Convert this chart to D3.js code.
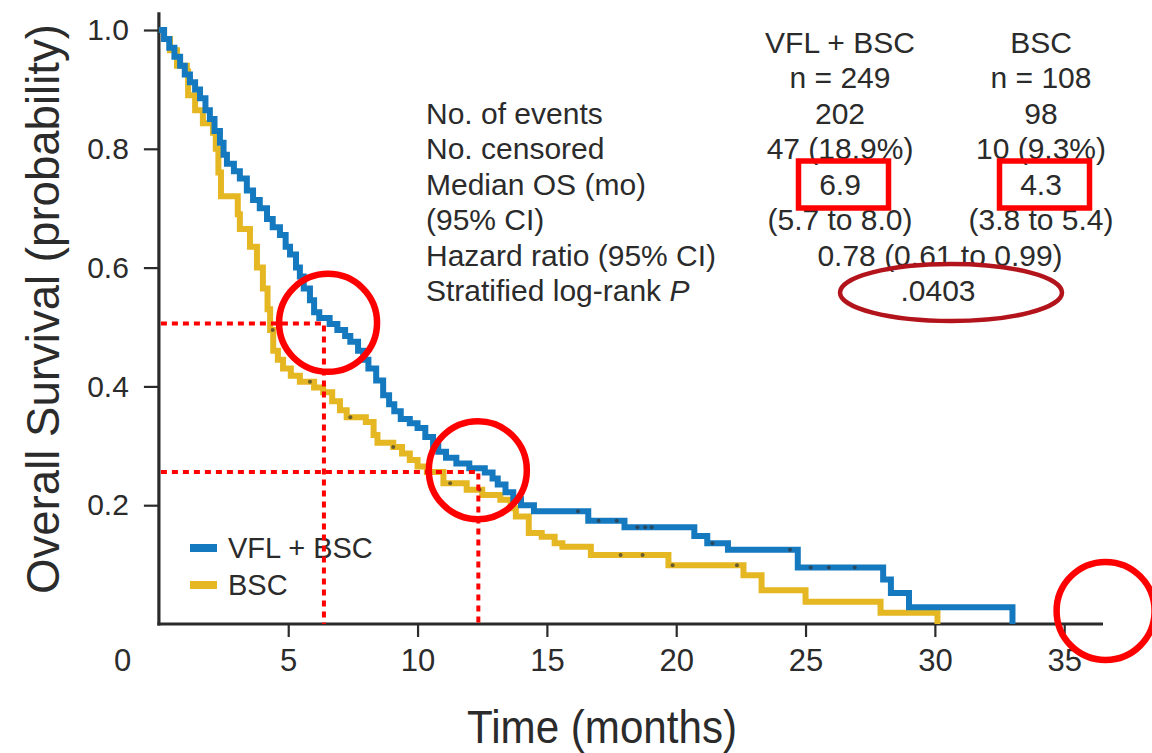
<!DOCTYPE html>
<html>
<head>
<meta charset="utf-8">
<script src="https://cdn.jsdelivr.net/npm/d3@7"></script>
<style>
  html, body { margin: 0; padding: 0; background: #fff; }
  svg { display: block; font-family: "Liberation Sans", Arial, sans-serif; }
</style>
</head>
<body>
<svg id="chart" width="1152" height="753"></svg>
<script>
// KM step data: time (months) -> survival after the drop
const vflTimes = [0, 0.2, 0.4, 0.6, 0.82, 1.0, 1.2, 1.4, 1.59, 1.8, 1.97, 2.15, 2.36, 2.5, 2.63, 2.9, 3.13, 3.4, 3.64, 3.9,
  4.18, 4.4, 4.68, 4.9, 5.07, 5.3, 5.45, 5.6, 5.84, 6.0, 6.2, 6.6, 6.9, 7.2, 7.4, 7.7, 7.9, 8.1, 8.4, 8.67,
  8.9, 9.1, 9.35, 9.7, 10.0, 10.3, 10.6, 10.8, 11.1, 11.5, 12.0, 12.6, 12.9, 13.1, 13.4, 13.7, 14.0, 14.5,
  16.6, 18.0, 20.7, 21.2, 22.0, 24.7, 28.0, 28.3, 29.0, 33.0];
const vflSurv = [1.0, 0.985, 0.97, 0.955, 0.94, 0.925, 0.912, 0.9, 0.885, 0.865, 0.85, 0.83, 0.81, 0.79, 0.775, 0.762, 0.75, 0.73, 0.714, 0.7,
  0.682, 0.668, 0.655, 0.635, 0.622, 0.6, 0.585, 0.565, 0.545, 0.525, 0.515, 0.505, 0.495, 0.485, 0.475, 0.46, 0.445, 0.43, 0.41, 0.385,
  0.37, 0.358, 0.345, 0.338, 0.33, 0.315, 0.3, 0.29, 0.28, 0.27, 0.262, 0.255, 0.245, 0.235, 0.222, 0.21, 0.2, 0.19,
  0.174, 0.163, 0.148, 0.136, 0.125, 0.095, 0.075, 0.052, 0.028, 0.0];

const bscTimes = [0, 0.2, 0.43, 0.7, 1.08, 1.13, 1.4, 1.7, 2.09, 2.2, 2.3, 2.4, 3.05, 3.13, 3.52, 3.79, 4.02, 4.2, 4.3, 4.42,
  4.6, 4.8, 5.1, 5.45, 6.0, 6.35, 6.7, 7.0, 7.26, 8.0, 8.3, 8.45, 9.06, 9.4, 9.7, 10.0, 10.36, 11.0, 11.9, 12.5,
  13.2, 13.6, 13.8, 14.3, 14.8, 15.3, 15.6, 16.7, 19.7, 22.6, 23.3, 25.0, 27.9, 30.1];
const bscSurv = [1.0, 0.985, 0.966, 0.94, 0.93, 0.89, 0.865, 0.843, 0.827, 0.8, 0.76, 0.72, 0.69, 0.665, 0.635, 0.6, 0.565, 0.53, 0.495, 0.46,
  0.445, 0.43, 0.418, 0.408, 0.398, 0.39, 0.375, 0.36, 0.348, 0.34, 0.318, 0.305, 0.298, 0.287, 0.276, 0.265, 0.256, 0.237, 0.226, 0.217,
  0.209, 0.195, 0.181, 0.153, 0.147, 0.136, 0.13, 0.116, 0.099, 0.082, 0.057, 0.0375, 0.019, 0.0];

// censoring ticks
const vflCensorTimes = [16.2, 17.0, 17.7, 18.5, 18.8, 19.05, 21.4, 24.4, 25.2, 25.9, 26.9];
const bscCensorTimes = [4.4, 5.84, 7.4, 9.06, 11.26, 12.4, 17.85, 18.7, 19.86, 22.35];

const seriesNames = ['VFL + BSC', 'BSC'];
const seriesColors = ['#1479bf', '#e5b722'];

const yTicks = [0.2, 0.4, 0.6, 0.8, 1.0];
const xTicks = [5, 10, 15, 20, 25, 30, 35];

// table
const colHeads = [['VFL + BSC', 'n = 249'], ['BSC', 'n = 108']];
const rowLabels = ['No. of events', 'No. censored', 'Median OS (mo)', '(95% CI)', 'Hazard ratio (95% CI)', 'Stratified log-rank '];
const vflValues = ['202', '47 (18.9%)', '6.9', '(5.7 to 8.0)'];
const bscValues = ['98', '10 (9.3%)', '4.3', '(3.8 to 5.4)'];
const hazardRatio = '0.78 (0.61 to 0.99)';
const logRankP = '.0403';

// red annotations (time, survival)
const guideTimes = [6.38, 12.35];
const guideSurv = [0.506, 0.256];
const circleTimes = [6.54, 12.33, 36.6];
const circleSurv = [0.507, 0.259, 0.022];

const svg = d3.select('#chart');
const ink = '#2b2b2b';

const x = d3.scaleLinear().domain([0, 36.5]).range([158.9, 1103]);
const y = d3.scaleLinear().domain([0, 1.03]).range([624, 624 - 1.03 * 594]);

// axes
const yAxis = svg.append('g')
  .attr('transform', `translate(${x(0)},0)`)
  .call(d3.axisLeft(y).tickValues(yTicks).tickFormat(d3.format('.1f')).tickSize(15).tickPadding(15));

const xAxis = svg.append('g')
  .attr('transform', `translate(0,${y(0)})`)
  .call(d3.axisBottom(x).tickValues(xTicks).tickSize(13).tickPadding(12));

[yAxis, xAxis].forEach(a => {
  a.select('.domain').attr('stroke', ink).attr('stroke-width', 3.2);
  a.selectAll('.tick line').attr('stroke', ink).attr('stroke-width', 2.2);
  a.selectAll('.tick text').attr('fill', ink).attr('font-family', '"Liberation Sans", Arial, sans-serif');
});
yAxis.selectAll('.tick text').attr('font-size', 30);
xAxis.selectAll('.tick text').attr('font-size', 31);
// plain axis lines, no end caps
xAxis.select('.domain').attr('d', `M${x(0) - 1.5},0H${x(36.5)}`);
yAxis.select('.domain').attr('d', `M0,${y(0) + 1.5}V${y(1.03)}`);

// stray zero label left of the origin
svg.append('text')
  .attr('x', 122.7).attr('y', 671)
  .attr('text-anchor', 'middle')
  .attr('font-size', 31).attr('fill', ink)
  .text('0');

// axis titles
svg.append('text')
  .attr('transform', 'translate(59,309) rotate(-90)')
  .attr('text-anchor', 'middle')
  .attr('font-size', 46).attr('fill', ink)
  .attr('textLength', 570).attr('lengthAdjust', 'spacingAndGlyphs')
  .text('Overall Survival (probability)');

svg.append('text')
  .attr('x', 602).attr('y', 743)
  .attr('text-anchor', 'middle')
  .attr('font-size', 47).attr('fill', ink)
  .attr('textLength', 270).attr('lengthAdjust', 'spacingAndGlyphs')
  .text('Time (months)');

// curves
const stepLine = d3.line()
  .x(d => x(d[0]))
  .y(d => y(d[1]))
  .curve(d3.curveStepAfter);

const curves = [
  {times: bscTimes, surv: bscSurv, censor: bscCensorTimes, color: seriesColors[1]},
  {times: vflTimes, surv: vflSurv, censor: vflCensorTimes, color: seriesColors[0]}
];

function survAt(times, surv, t) {
  const i = d3.bisectRight(times, t) - 1;
  return surv[Math.max(0, i)];
}

curves.forEach(c => {
  svg.append('path')
    .datum(d3.zip(c.times, c.surv))
    .attr('d', stepLine)
    .attr('fill', 'none')
    .attr('stroke', c.color)
    .attr('stroke-width', 6)
    .attr('stroke-linejoin', 'miter');
});

curves.forEach(c => {
  svg.append('g').selectAll('circle')
    .data(c.censor)
    .join('circle')
    .attr('cx', d => x(d))
    .attr('cy', d => y(survAt(c.times, c.surv, d)))
    .attr('r', 2)
    .attr('fill', '#333')
    .attr('opacity', 0.7);
});

// legend
const legend = svg.append('g');
seriesNames.forEach((name, i) => {
  const ly = 548 + i * 37;
  legend.append('line')
    .attr('x1', 190).attr('x2', 217)
    .attr('y1', ly).attr('y2', ly)
    .attr('stroke', seriesColors[i]).attr('stroke-width', 8);
  legend.append('text')
    .attr('x', 228).attr('y', ly + 10)
    .attr('font-size', 29).attr('fill', ink)
    .text(name);
});

// table
const table = svg.append('g').attr('fill', ink).attr('font-size', 30);
const colX = [840, 1041];
const rowY0 = 124, rowStep = 35.4;

colHeads.forEach((lines, c) => {
  lines.forEach((t, j) => {
    table.append('text')
      .attr('x', colX[c]).attr('y', 53 + j * 35)
      .attr('text-anchor', 'middle')
      .text(t);
  });
});

rowLabels.forEach((lab, r) => {
  const tx = table.append('text')
    .attr('x', 426).attr('y', rowY0 + r * rowStep)
    .text(lab);
  if (r === rowLabels.length - 1) tx.append('tspan').attr('font-style', 'italic').text('P');
});

[vflValues, bscValues].forEach((vals, c) => {
  vals.forEach((v, r) => {
    table.append('text')
      .attr('x', colX[c]).attr('y', rowY0 + r * rowStep)
      .attr('text-anchor', 'middle')
      .text(v);
  });
});

table.append('text')
  .attr('x', 940).attr('y', rowY0 + 4 * rowStep)
  .attr('text-anchor', 'middle')
  .text(hazardRatio);
table.append('text')
  .attr('x', 938).attr('y', rowY0 + 5 * rowStep)
  .attr('text-anchor', 'middle')
  .text(logRankP);

// red annotations
const notes = svg.append('g').attr('fill', 'none');

guideTimes.forEach((t, i) => {
  notes.append('path')
    .attr('d', `M${x(0) + 2},${y(guideSurv[i])}H${x(t)}V${y(0)}`)
    .attr('stroke', '#ff0000')
    .attr('stroke-width', 4)
    .attr('stroke-dasharray', '6,5');
});

circleTimes.forEach((t, i) => {
  notes.append('circle')
    .attr('cx', x(t)).attr('cy', y(circleSurv[i]))
    .attr('r', 49)
    .attr('stroke', '#ff0000')
    .attr('stroke-width', 6.5);
});

// boxes around the medians
colX.forEach(cx => {
  notes.append('rect')
    .attr('x', cx + 3.5 - 45).attr('y', 161)
    .attr('width', 90).attr('height', 47)
    .attr('stroke', '#ff0000')
    .attr('stroke-width', 5.5);
});

// ellipse around the P value
notes.append('ellipse')
  .attr('cx', 951).attr('cy', 292.5)
  .attr('rx', 111).attr('ry', 28.5)
  .attr('stroke', '#b3141c')
  .attr('stroke-width', 4.5);
</script>
</body>
</html>
